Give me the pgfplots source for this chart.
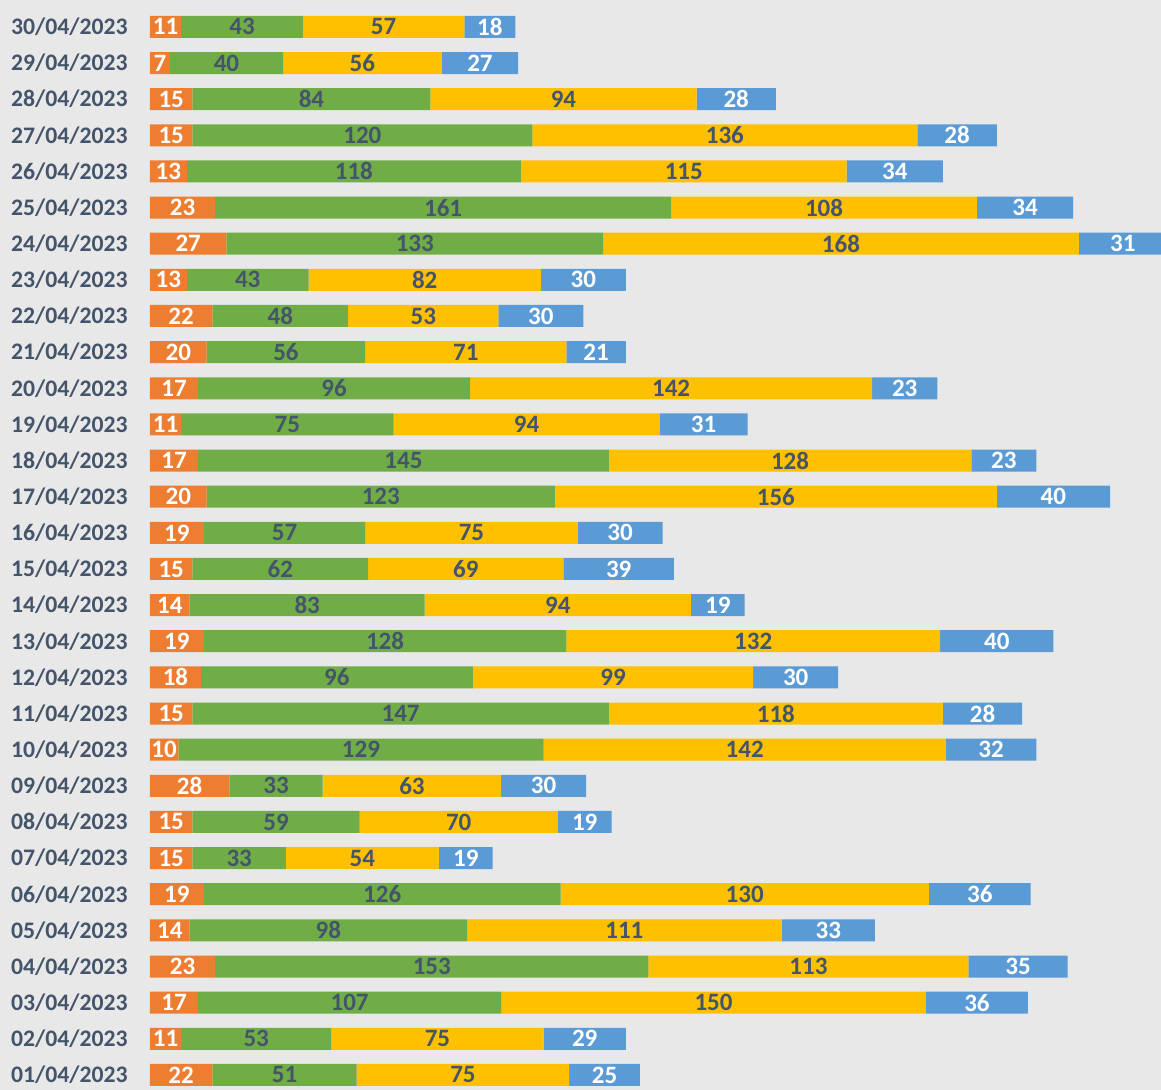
\documentclass[border=0pt]{standalone}
\usepackage{pgfplots}
\pgfplotsset{compat=1.18}
\usepackage{pgfplotstable}
\usepackage{fontspec}
\setmainfont{Carlito}
\definecolor{cO}{HTML}{ED7D31}
\definecolor{cG}{HTML}{70AD47}
\definecolor{cY}{HTML}{FFC000}
\definecolor{cB}{HTML}{5B9BD5}
\definecolor{txt}{HTML}{44546A}
\definecolor{bgc}{HTML}{E8E8E8}
\pgfplotstableread{
i o g y b
0 22 51 75 25
1 11 53 75 29
2 17 107 150 36
3 23 153 113 35
4 14 98 111 33
5 19 126 130 36
6 15 33 54 19
7 15 59 70 19
8 28 33 63 30
9 10 129 142 32
10 15 147 118 28
11 18 96 99 30
12 19 128 132 40
13 14 83 94 19
14 15 62 69 39
15 19 57 75 30
16 20 123 156 40
17 17 145 128 23
18 11 75 94 31
19 17 96 142 23
20 20 56 71 21
21 22 48 53 30
22 13 43 82 30
23 27 133 168 31
24 23 161 108 34
25 13 118 115 34
26 15 120 136 28
27 15 84 94 28
28 7 40 56 27
29 11 43 57 18
}\data
\pgfplotsset{
  base/.style={
    scale only axis, width=505.5pt, height=542.1pt,
    at={(0,0)}, anchor=south west,
    xmin=0, xmax=357, ymin=-0.5, ymax=29.5,
  },
  lab/.style={draw=none, mark=none, nodes near coords=\pgfplotspointmeta,
    point meta=explicit symbolic,
    every node near coord/.append style={anchor=center, text=#1,
      font=\fontsize{12.5}{14}\selectfont\bfseries, inner sep=0pt}},
}
\begin{document}
\begin{tikzpicture}[x=1pt,y=1pt]
\fill[bgc] (-75,1.535) rectangle (505.5,546.5);
\path[use as bounding box] (-75,1.535) rectangle (505.5,546.5);
\begin{axis}[base,
  xbar stacked, bar width=11pt,
  hide x axis,
  axis y line*=left,
  y axis line style={draw=none},
  major tick length=0pt,
  ytick={0,...,29},
  yticklabels={01/04/2023,02/04/2023,03/04/2023,04/04/2023,05/04/2023,06/04/2023,07/04/2023,08/04/2023,09/04/2023,10/04/2023,11/04/2023,12/04/2023,13/04/2023,14/04/2023,15/04/2023,16/04/2023,17/04/2023,18/04/2023,19/04/2023,20/04/2023,21/04/2023,22/04/2023,23/04/2023,24/04/2023,25/04/2023,26/04/2023,27/04/2023,28/04/2023,29/04/2023,30/04/2023},
  yticklabel style={font=\fontsize{11.85}{14}\selectfont\bfseries, text=txt, inner sep=0pt, xshift=-11pt},
]
\addplot[fill=cO, draw=none] table[x=o, y=i] {\data};
\addplot[fill=cG, draw=none] table[x=g, y=i] {\data};
\addplot[fill=cY, draw=none] table[x=y, y=i] {\data};
\addplot[fill=cB, draw=none] table[x=b, y=i] {\data};
\end{axis}
\begin{axis}[base, hide axis, clip=false]
\addplot[lab=white] table[x expr=\thisrow{o}/2, y=i, meta=o] {\data};
\addplot[lab=txt] table[x expr=\thisrow{o}+\thisrow{g}/2, y=i, meta=g] {\data};
\addplot[lab=txt] table[x expr=\thisrow{o}+\thisrow{g}+\thisrow{y}/2, y=i, meta=y] {\data};
\addplot[lab=white] table[x expr=\thisrow{o}+\thisrow{g}+\thisrow{y}+\thisrow{b}/2, y=i, meta=b] {\data};
\end{axis}
\end{tikzpicture}
\end{document}
